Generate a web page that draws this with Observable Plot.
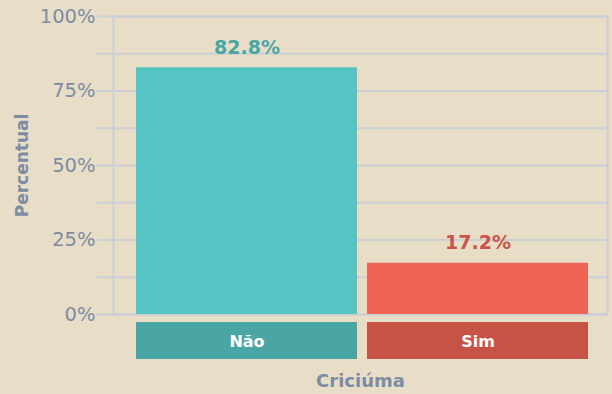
<!DOCTYPE html>
<html>
<head>
<meta charset="utf-8">
<script src="https://cdn.jsdelivr.net/npm/d3@7"></script>
<script src="https://cdn.jsdelivr.net/npm/@observablehq/plot@0.6"></script>
<style>
  html, body { margin: 0; padding: 0; background: #e8dec8; }
  #chart svg { display: block; }
</style>
</head>
<body>
<div id="chart"></div>
<script>
// Respostas em Criciúma (percentual)
const categories = ["Não", "Sim"];
const percents = [82.8, 17.2];
const barColors = ["#55c4c2", "#f06455"];
const stripColors = ["#4aa6a5", "#c75347"];
const labelColors = ["#4aa6a5", "#c9534a"];
const yTicks = [0, 25, 50, 75, 100];
const gridLines = [0, 12.5, 25, 37.5, 50, 62.5, 75, 87.5, 100];

const rows = categories.map((c, i) => ({cat: c, pct: percents[i]}));
const axisColor = "#7d8ca3";
const gridColor = "#c9cfd2";
const font = "DejaVu Sans, sans-serif";

const chart = Plot.plot({
  width: 612,
  height: 394,
  marginLeft: 113,
  marginRight: 5,
  marginTop: 16,
  marginBottom: 80,
  style: {background: "#e8dec8", fontFamily: font},
  x: {domain: categories, paddingInner: 0.0433, paddingOuter: 0.0909, align: 0.55, axis: null},
  y: {domain: [0, 100], axis: null},
  color: {domain: categories, range: barColors},
  marks: [
    Plot.ruleY(gridLines, {stroke: gridColor, strokeWidth: 2, insetLeft: -16}),
    Plot.frame({stroke: gridColor, strokeWidth: 2}),
    Plot.axisY(yTicks, {
      tickSize: 0, tickPadding: 18, label: null,
      tickFormat: d => d + "%",
      fontSize: 19.5, fill: axisColor, stroke: null
    }),
    Plot.barY(rows, {x: "cat", y: "pct", fill: "cat"}),
    Plot.text(rows, {
      x: "cat", y: "pct", text: d => d.pct.toFixed(1) + "%",
      dy: -14, lineAnchor: "bottom", fontSize: 19, fontWeight: "bold",
      fill: (d, i) => labelColors[i]
    }),
    // faixas com o nome das categorias, abaixo do painel
    Plot.barY(rows, {x: "cat", y1: -2.7, y2: -15.1, fill: (d, i) => stripColors[i]}),
    Plot.text(rows, {
      x: "cat", frameAnchor: "bottom", dy: 27, text: "cat",
      fill: "white", fontSize: 16, fontWeight: "bold", lineAnchor: "middle"
    }),
    Plot.text(["Criciúma"], {
      frameAnchor: "bottom", dy: 67, fontSize: 18, fontWeight: "bold",
      fill: axisColor, lineAnchor: "middle"
    }),
    Plot.text(["Percentual"], {
      frameAnchor: "left", dx: -91, rotate: -90, textAnchor: "middle",
      fontSize: 17, fontWeight: "bold", fill: axisColor, lineAnchor: "middle"
    })
  ]
});
document.getElementById("chart").append(chart);
</script>
</body>
</html>
